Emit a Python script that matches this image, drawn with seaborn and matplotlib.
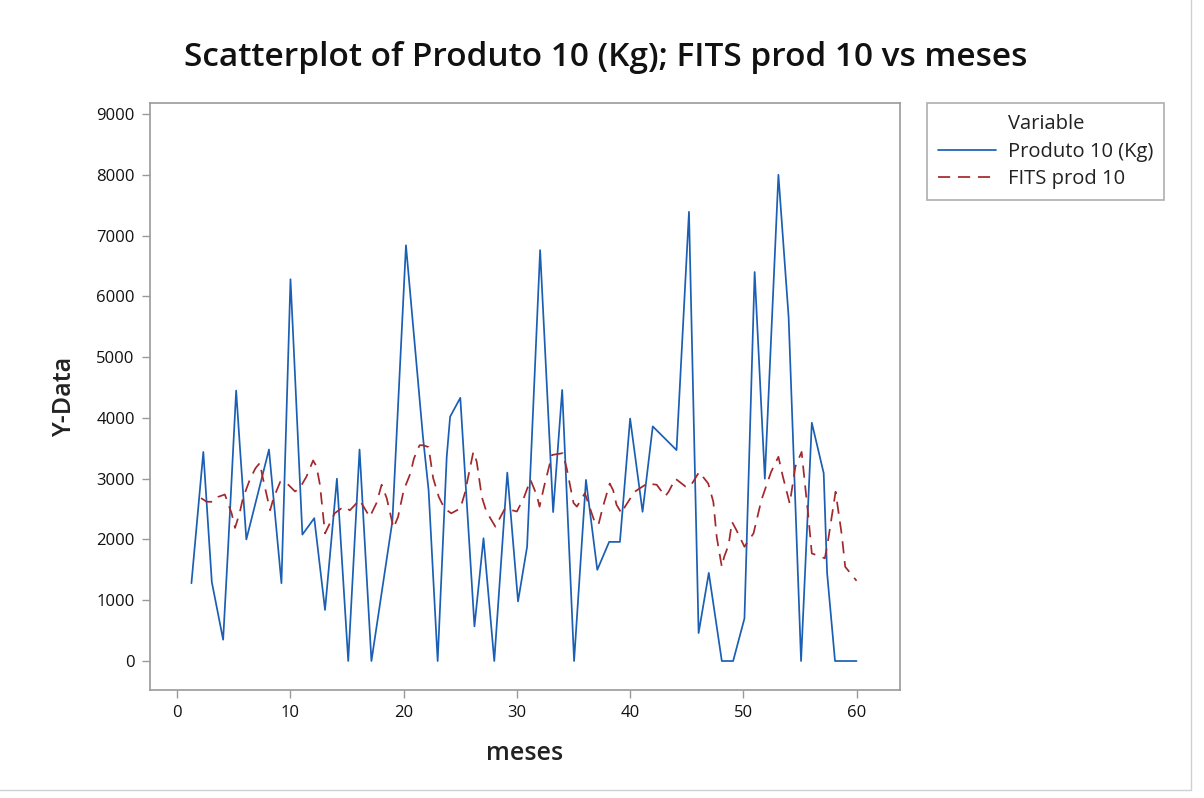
import matplotlib
matplotlib.use("Agg")
import matplotlib.pyplot as plt
from matplotlib.lines import Line2D
import seaborn as sns
import pandas as pd

# ---- data ----
meses_prod = [1.25, 2.3, 3.05, 4.05, 4.5, 5.2, 5.55, 6.1, 8.1, 9.2, 10.0, 10.2, 11.05, 12.1,
              13.05, 14.1, 15.1, 16.1, 17.15, 19.0, 20.2, 21.7, 22.2, 23.0, 23.8, 24.1, 25.0,
              26.25, 27.05, 28.0, 29.15, 30.1, 30.9, 32.05, 33.2, 34.0, 35.05, 36.1, 37.1,
              38.15, 39.1, 40.0, 41.1, 42.0, 44.1, 45.2, 46.05, 46.95, 48.1, 49.1, 50.1,
              51.0, 51.9, 53.1, 54.0, 55.1, 56.05, 57.1, 57.4, 58.1, 60.0]
produto10 = [1280, 3440, 1300, 350, 1900, 4450, 3470, 2000, 3480, 1280, 6280, 5500, 2080, 2350,
             840, 3000, 0, 3480, 0, 2300, 6840, 3690, 2810, 0, 3360, 4020, 4330,
             570, 2020, 0, 3100, 980, 1880, 6760, 2450, 4460, 0, 2980, 1500,
             1960, 1960, 3990, 2455, 3860, 3470, 7390, 460, 1450, 0, 0, 700,
             6400, 3000, 8000, 5660, 0, 3920, 3090, 1450, 0, 0]

meses_fits = [2.1, 2.6, 3.2, 3.6, 4.2, 4.8, 5.1, 5.5, 5.8, 6.4, 6.9, 7.3, 7.5, 8.2, 8.5, 9.1,
              9.7, 10.4, 10.8, 11.4, 12.0, 12.3, 12.6, 13.05, 13.9, 14.7, 15.25, 16.1, 17.0,
              17.6, 18.05, 18.5, 19.1, 19.5, 20.0, 20.6, 20.9, 21.4, 21.7, 22.2, 22.6, 23.1,
              23.6, 24.2, 25.0, 25.4, 26.15, 26.45, 26.9, 27.3, 28.1, 28.4, 28.95, 30.0,
              30.6, 31.2, 31.75, 32.0, 32.4, 33.1, 34.05, 34.4, 35.0, 35.3, 36.0, 36.3,
              36.9, 37.2, 37.6, 38.2, 38.5, 38.8, 39.25, 39.55, 40.4, 41.5, 42.35, 43.1,
              43.4, 44.0, 44.9, 45.3, 46.1, 46.9, 47.35, 47.65, 48.1, 48.3, 48.7, 49.0,
              49.4, 50.1, 50.9, 51.6, 52.45, 53.1, 53.5, 54.1, 54.6, 55.15, 55.45, 55.75,
              56.05, 57.2, 57.45, 58.15, 58.7, 59.0, 60.0]
fits10 = [2680, 2620, 2620, 2700, 2740, 2430, 2190, 2430, 2680, 2980, 3170, 3260, 3060, 2480,
          2680, 2950, 2920, 2790, 2840, 3030, 3300, 3200, 2900, 2100, 2430, 2540, 2480, 2650,
          2370, 2600, 2900, 2680, 2190, 2370, 2810, 3090, 3330, 3550, 3550, 3520, 3010, 2700,
          2510, 2430, 2510, 2760, 3440, 3280, 2700, 2460, 2210, 2320, 2510, 2460,
          2680, 2980, 2730, 2540, 2870, 3390, 3420, 3170, 2600, 2540, 2760, 2600,
          2270, 2240, 2540, 2920, 2810, 2570, 2430, 2540, 2785, 2920, 2900, 2710,
          2785, 3000, 2870, 2870, 3110, 2920, 2620, 2040, 1550, 1710, 1910, 2290,
          2150, 1880, 2100, 2650, 3110, 3360, 3030, 2590, 3200, 3440, 2900, 2370,
          1770, 1690, 1940, 2785, 2070, 1550, 1320]

x_ticks = [0, 10, 20, 30, 40, 50, 60]
y_ticks = [0, 1000, 2000, 3000, 4000, 5000, 6000, 7000, 8000, 9000]

title = "Scatterplot of Produto 10 (Kg); FITS prod 10 vs meses"
blue = "#1a5fb4"
red = "#a3282c"
grey = "#9a9a9a"
dash = (0, (7, 4.5))

sns.set_theme(style="ticks")
plt.rcParams["font.family"] = ["Open Sans", "DejaVu Sans"]

W, H = 1204, 798
fig = plt.figure(figsize=(W / 100, H / 100), dpi=100)
fig.patch.set_facecolor("white")
ax = fig.add_axes([150 / W, 1 - 690 / H, (900 - 150) / W, (690 - 103) / H])

df_p = pd.DataFrame({"meses": meses_prod, "val": produto10})
df_f = pd.DataFrame({"meses": meses_fits, "val": fits10})

sns.lineplot(data=df_p, x="meses", y="val", sort=False, estimator=None, ax=ax,
             color=blue, linewidth=1.25)
sns.lineplot(data=df_f, x="meses", y="val", sort=False, estimator=None, ax=ax,
             color=red, linewidth=1.25, linestyle=dash)

ax.set_xlim(-2.41, 63.84)
ax.set_ylim(-477, 9181)
ax.set_xticks(x_ticks)
ax.set_yticks(y_ticks)
ax.set_xticklabels([str(v) for v in x_ticks])
ax.set_yticklabels([str(v) for v in y_ticks])
ax.tick_params(axis="both", labelsize=12, colors=grey, labelcolor="#111111",
               length=6, width=1, direction="out", pad=5)
for t in ax.get_xticklabels() + ax.get_yticklabels():
    t.set_fontweight("medium")
for s in ax.spines.values():
    s.set_visible(True)
    s.set_color(grey)
    s.set_linewidth(1.2)

ax.set_xlabel("meses", fontsize=18, fontweight="semibold", color="#222222", labelpad=14)
ax.set_ylabel("Y-Data", fontsize=18, fontweight="semibold", color="#222222", labelpad=14)

fig.text(0.503, 1 - 58 / H, title, ha="center", va="center", fontsize=24,
         fontweight="semibold", color="#111111")

handles = [Line2D([], [], color="none"),
           Line2D([], [], color=blue, linewidth=1.25),
           Line2D([], [], color=red, linewidth=1.25, linestyle=dash)]
labels = ["Variable", "Produto 10 (Kg)", "FITS prod 10"]
leg = ax.legend(handles, labels, loc="upper left",
                bbox_to_anchor=(927 / W, 1 - 103 / H), bbox_transform=fig.transFigure,
                fontsize=14.5, frameon=True, fancybox=False, handlelength=2.9,
                handletextpad=0.55, borderpad=0.55, labelspacing=0.38, borderaxespad=0)
leg.get_frame().set_edgecolor(grey)
leg.get_frame().set_linewidth(1.2)
for t in leg.get_texts():
    t.set_color("#222222")

# outer frame lines of the picture
fig.add_artist(Line2D([1191 / W, 1191 / W], [1 - 790 / H, 1], transform=fig.transFigure,
                      color="#d0d0d0", linewidth=1))
fig.add_artist(Line2D([0, 1191 / W], [1 - 790 / H, 1 - 790 / H], transform=fig.transFigure,
                      color="#d0d0d0", linewidth=1))

fig.savefig("out.png", dpi=100, facecolor="white")
